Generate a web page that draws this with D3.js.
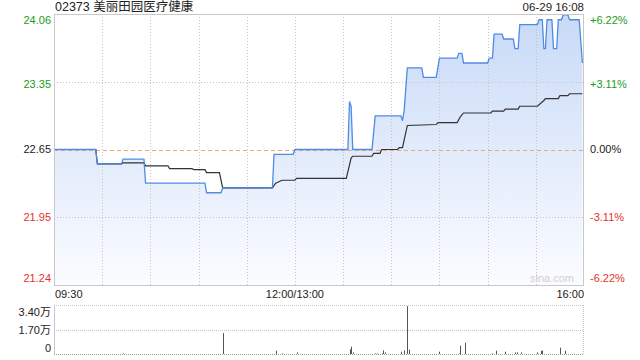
<!DOCTYPE html>
<html>
<head>
<meta charset="utf-8">
<script src="https://cdn.jsdelivr.net/npm/d3@7"></script>
<style>
  body { margin: 0; background: #fff; }
  svg text { font-family: "Liberation Sans", Arial, "Noto Sans CJK SC", sans-serif; }
</style>
</head>
<body>
<div id="chart"></div>
<script>
// minutes since 09:30 (trading minutes, lunch removed), 0..330
const title = "02373 美丽田园医疗健康";
const stamp = "06-29 16:08";
const prevClose = 22.65;

const priceTicks = [24.06, 23.35, 22.65, 21.95, 21.24];
const pctTicks = ["+6.22%", "+3.11%", "0.00%", "-3.11%", "-6.22%"];
const timeTicks = [0, 150, 330];
const timeLabels = ["09:30", "12:00/13:00", "16:00"];

const priceMin = [0, 26, 27, 42, 43, 56, 57, 94, 95, 104, 105, 136, 137, 149, 150, 183, 184, 185, 186,
  198, 200, 216, 217, 218, 220, 229, 230, 238, 240, 251, 252, 254, 255, 270, 271, 273, 274,
  279, 280, 286, 287, 289, 290, 301, 302, 304, 305, 306, 307, 310, 311, 313, 314, 316, 317,
  320, 321, 327, 329];
const price = [22.65, 22.65, 22.50, 22.50, 22.55, 22.55, 22.30, 22.30, 22.20, 22.20, 22.25, 22.25, 22.60, 22.60, 22.65, 22.65, 23.15, 23.10, 22.65,
  22.65, 23.00, 23.00, 22.95, 23.05, 23.50, 23.50, 23.40, 23.40, 23.60, 23.60, 23.65, 23.65, 23.55, 23.55, 23.60, 23.60, 23.85,
  23.85, 23.80, 23.80, 23.70, 23.70, 23.95, 23.95, 24.00, 24.00, 23.70, 23.70, 24.00, 24.00, 23.70, 23.70, 24.00, 24.00, 24.05,
  24.05, 24.00, 24.00, 23.55];

const avgMin = [0, 26, 27, 42, 43, 56, 57, 71, 72, 86, 87, 94, 95, 103, 105, 136, 138, 142, 150, 151,
  182, 185, 186, 198, 199, 203, 204, 214, 215, 217, 220, 238, 239, 251, 253, 255, 272, 273, 280, 281,
  289, 290, 301, 305, 306, 314, 315, 320, 321, 329];
const avg = [22.65, 22.65, 22.50, 22.50, 22.51, 22.51, 22.48, 22.48, 22.45, 22.45, 22.44, 22.44, 22.41, 22.41, 22.25, 22.25, 22.30, 22.33, 22.33, 22.35,
  22.35, 22.56, 22.58, 22.58, 22.61, 22.61, 22.65, 22.65, 22.67, 22.67, 22.90, 22.91, 22.93, 22.93, 22.99, 23.03, 23.03, 23.05, 23.05, 23.07,
  23.07, 23.10, 23.10, 23.16, 23.18, 23.18, 23.21, 23.21, 23.23, 23.23];

const volMin = [43, 105, 138, 142, 151, 184, 185, 186, 200, 201, 204, 205, 206, 216, 218, 220, 221, 240,
  252, 253, 256, 273, 275, 281, 287, 288, 291, 301, 303, 304, 308, 315, 318, 324];
const vol = [500, 14500, 2300, 400, 1100, 3300, 5100, 1100, 400, 400, 400, 2500, 1100, 1600, 2500, 33200, 3000, 1600,
  400, 5800, 7900, 400, 2300, 1600, 1100, 1100, 1100, 1100, 2100, 2500, 200, 4400, 2300, 200];
const volTicks = [34000, 17000, 0];
const volLabels = ["3.40万", "1.70万", "0"];

const W = 640, H = 360;
const pLeft = 54, pRight = 584, pTop = 14, pBottom = 285;
const vTop = 305, vBottom = 354;

const svg = d3.select("#chart").append("svg")
    .attr("width", W).attr("height", H);

const x = d3.scaleLinear().domain([0, 330]).range([pLeft, pRight]);
const y = d3.scaleLinear().domain([21.24, 24.06]).range([pBottom, pTop]);
const yv = d3.scaleLinear().domain([0, 34000]).range([vBottom, vTop]);

// gradient fill
const grad = svg.append("defs").append("linearGradient")
    .attr("id", "fill").attr("gradientUnits", "userSpaceOnUse")
    .attr("x1", 0).attr("y1", pTop).attr("x2", 0).attr("y2", pBottom);
grad.append("stop").attr("offset", 0).attr("stop-color", "#c8daf7");
grad.append("stop").attr("offset", 1).attr("stop-color", "#fbfcff");

// title
svg.append("text").attr("x", 55).attr("y", 11)
    .attr("font-size", 12.5).attr("fill", "#222").text(title);
svg.append("text").attr("x", 584).attr("y", 11).attr("text-anchor", "end")
    .attr("font-size", 11.5).attr("fill", "#222").text(stamp);

const pts = priceMin.map((m, i) => [m, price[i]]);
const avgPts = avgMin.map((m, i) => [m, avg[i]]);

// area
svg.append("path").datum(pts)
    .attr("fill", "url(#fill)")
    .attr("d", d3.area().x(d => x(d[0])).y0(pBottom).y1(d => y(d[1])));

// grid
const grid = svg.append("g").attr("stroke", "#c4c4c4").attr("stroke-dasharray", "1,2").attr("fill", "none");
d3.range(30, 330, 30).forEach(m => {
  grid.append("line").attr("x1", Math.round(x(m)) + 0.5).attr("x2", Math.round(x(m)) + 0.5)
      .attr("y1", pTop).attr("y2", pBottom);
});
[priceTicks[1], priceTicks[3]].forEach(p => {
  grid.append("line").attr("x1", pLeft).attr("x2", pRight)
      .attr("y1", Math.round(y(p)) + 0.5).attr("y2", Math.round(y(p)) + 0.5);
});
svg.append("line").attr("x1", pLeft).attr("x2", pRight)
    .attr("y1", Math.round(y(prevClose)) + 0.5).attr("y2", Math.round(y(prevClose)) + 0.5)
    .attr("stroke", "#f0a57c").attr("stroke-dasharray", "4,3");

// lines
svg.append("path").datum(avgPts)
    .attr("fill", "none").attr("stroke", "#333").attr("stroke-width", 1.2)
    .attr("d", d3.line().x(d => x(d[0])).y(d => y(d[1])));
svg.append("path").datum(pts)
    .attr("fill", "none").attr("stroke", "#4f8be6").attr("stroke-width", 1.3)
    .attr("d", d3.line().x(d => x(d[0])).y(d => y(d[1])));

// border
svg.append("rect").attr("x", pLeft + 0.5).attr("y", pTop + 0.5)
    .attr("width", pRight - pLeft - 1).attr("height", pBottom - pTop)
    .attr("fill", "none").attr("stroke", "#c8c8c8");

// watermark
svg.append("text").attr("x", 574).attr("y", 282).attr("text-anchor", "end")
    .attr("font-size", 11).attr("fill", "#d0d0d0").text("sina.com");

// price labels
const colorOf = i => i < 2 ? "#1a9c1a" : (i === 2 ? "#222" : "#e8302a");
const labelY = [20, 84, 149, 217, 278];
priceTicks.forEach((p, i) => {
  svg.append("text").attr("x", 51).attr("y", labelY[i]).attr("dy", "0.35em")
      .attr("text-anchor", "end").attr("font-size", 11).attr("fill", colorOf(i))
      .text(p.toFixed(2));
  svg.append("text").attr("x", 590).attr("y", labelY[i]).attr("dy", "0.35em")
      .attr("font-size", 11).attr("fill", colorOf(i)).text(pctTicks[i]);
});

// time labels
timeTicks.forEach((t, i) => {
  svg.append("text").attr("x", x(t) + (i === 0 ? 1 : 0)).attr("y", 298)
      .attr("text-anchor", i === 0 ? "start" : (i === 2 ? "end" : "middle"))
      .attr("font-size", 11).attr("fill", "#222").text(timeLabels[i]);
});

// volume panel
const vg = svg.append("g").attr("stroke", "#c4c4c4").attr("stroke-dasharray", "1,1");
vg.append("line").attr("x1", pLeft).attr("x2", pRight).attr("y1", vTop + 0.5).attr("y2", vTop + 0.5);
vg.append("line").attr("x1", pLeft).attr("x2", pRight).attr("y1", Math.round(yv(17000)) + 0.5).attr("y2", Math.round(yv(17000)) + 0.5);
vg.append("line").attr("x1", pRight - 0.5).attr("x2", pRight - 0.5).attr("y1", vTop).attr("y2", vBottom);
svg.append("line").attr("x1", pLeft).attr("x2", pRight).attr("y1", vBottom + 0.5).attr("y2", vBottom + 0.5)
    .attr("stroke", "#999").attr("stroke-dasharray", "1,1");
svg.append("line").attr("x1", pLeft + 0.5).attr("x2", pLeft + 0.5).attr("y1", vTop).attr("y2", vBottom)
    .attr("stroke", "#c8c8c8");

svg.append("g").selectAll("rect").data(volMin).join("rect")
    .attr("x", d => Math.round(x(d)))
    .attr("width", 1)
    .attr("y", (d, i) => yv(vol[i]))
    .attr("height", (d, i) => vBottom - yv(vol[i]))
    .attr("fill", "#555");

const volY = [312, 330, 348];
volLabels.forEach((l, i) => {
  svg.append("text").attr("x", 51).attr("y", volY[i]).attr("dy", "0.35em")
      .attr("text-anchor", "end").attr("font-size", 11).attr("fill", "#222").text(l);
});
</script>
</body>
</html>
